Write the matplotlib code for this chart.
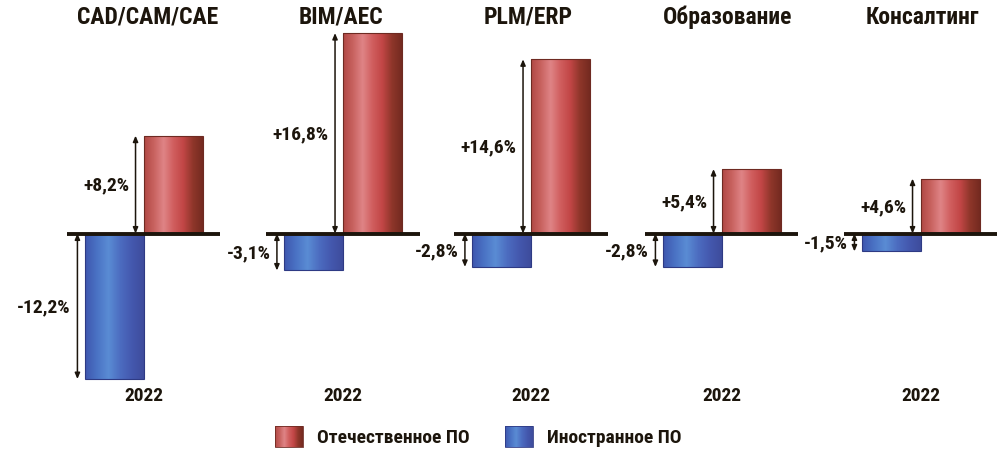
import numpy as np
import matplotlib
matplotlib.use("Agg")
import matplotlib.pyplot as plt
from matplotlib.colors import LinearSegmentedColormap

# ---- data ----
categories = ["CAD/CAM/CAE", "BIM/AEC", "PLM/ERP", "Образование", "Консалтинг"]
domestic = [8.2, 16.8, 14.6, 5.4, 4.6]      # Отечественное ПО
foreign = [-12.2, -3.1, -2.8, -2.8, -1.5]    # Иностранное ПО
year_labels = ["2022", "2022", "2022", "2022", "2022"]
legend_labels = ["Отечественное ПО", "Иностранное ПО"]

# ---- style ----
FONT = ["Roboto Condensed", "Liberation Sans Narrow", "DejaVu Sans"]
plt.rcParams["font.family"] = FONT
TXT = "#1c150c"
red_stops = ["#b04844", "#c8625f", "#df8486", "#d05e5e", "#c24646", "#8e362a", "#742a20"]
blue_stops = ["#3e56ae", "#4a72c4", "#5a8cd4", "#4c6cc0", "#4458ae", "#3e4c9c"]
red_cmap = LinearSegmentedColormap.from_list("r", red_stops)
blue_cmap = LinearSegmentedColormap.from_list("b", blue_stops)
grad = np.linspace(0, 1, 256).reshape(1, -1)

W, H = 1000, 452
fig = plt.figure(figsize=(W / 100, H / 100), dpi=100)
fig.patch.set_facecolor("white")

px_per_pct = 11.93
base_px = 234.5          # baseline position from top (px)
ylim = (-(H - base_px) / px_per_pct, base_px / px_per_pct)
bar_px = 59.0
centers_px = [143.5, 343, 531, 721.5, 920.5]
title_shift_px = [4.5, -2, -3, 6.5, 1.5]
ax_w_px = 200


def gradient_bar(ax, x, h, cmap, edge):
    b = ax.bar(x, h, width=1.0, align="edge", color="none",
               edgecolor=edge, linewidth=0.8, zorder=3)[0]
    x0, x1 = x, x + 1.0
    y0, y1 = (0, h) if h > 0 else (h, 0)
    im = ax.imshow(grad, cmap=cmap, extent=[x0, x1, y0, y1],
                   aspect="auto", zorder=2, interpolation="bilinear")
    im.set_clip_path(b)
    return b


def dim_arrow(ax, x, v, label):
    ax.annotate("", xy=(x, v), xytext=(x, 0),
                arrowprops=dict(arrowstyle="<|-|>,head_length=0.35,head_width=0.15",
                                color=TXT, lw=1.1, shrinkA=0, shrinkB=0),
                zorder=4)
    ax.text(x - 0.11, v / 2, label, ha="right", va="center",
            fontsize=14, fontweight="bold", color=TXT, fontstretch="condensed")


def fmt(v):
    return f"{v:+.1f}%".replace(".", ",")


for i, cat in enumerate(categories):
    c = centers_px[i]
    half_units = (ax_w_px / 2) / bar_px
    ax = fig.add_axes([(c - ax_w_px / 2) / W, 0, ax_w_px / W, 1])
    ax.set_xlim(-half_units, half_units)
    ax.set_ylim(*ylim)
    ax.axis("off")

    gradient_bar(ax, -1.0, foreign[i], blue_cmap, "#2e3a84")
    gradient_bar(ax, 0.0, domestic[i], red_cmap, "#6e2a22")
    ax.plot([-1.3, 1.3], [0, 0], color=TXT, lw=2.8, zorder=5,
            solid_capstyle="butt")

    dim_arrow(ax, -0.135, domestic[i], fmt(domestic[i]))
    dim_arrow(ax, -1.12, foreign[i], fmt(foreign[i]))

    ax.text(title_shift_px[i] / bar_px, (base_px - 17) / px_per_pct, cat,
            ha="center", va="center", fontsize=17, fontweight="bold",
            color=TXT, fontstretch="condensed")
    ax.text(0, -(396 - base_px) / px_per_pct, year_labels[i], ha="center",
            va="center", fontsize=14, fontweight="bold", color=TXT,
            fontstretch="condensed")

# ---- legend ----
lax = fig.add_axes([0, 0, 1, 1])
lax.set_xlim(0, W)
lax.set_ylim(H, 0)
lax.axis("off")
lax.patch.set_alpha(0)
for (x0, cmap, edge, lab, tx) in [(275, red_cmap, "#6e2a22", legend_labels[0], 317),
                                  (505, blue_cmap, "#2e3a84", legend_labels[1], 547)]:
    r = lax.bar(x0, 21, width=28, bottom=427, align="edge", color="none",
                edgecolor=edge, linewidth=0.6, zorder=3)[0]
    im = lax.imshow(grad, cmap=cmap, extent=[x0, x0 + 28, 448, 427],
                    aspect="auto", zorder=2)
    im.set_clip_path(r)
    lax.text(tx, 438, lab, ha="left", va="center", fontsize=14,
             fontweight="bold", color=TXT, fontstretch="condensed")

fig.savefig("out.png", dpi=100, facecolor="white")
